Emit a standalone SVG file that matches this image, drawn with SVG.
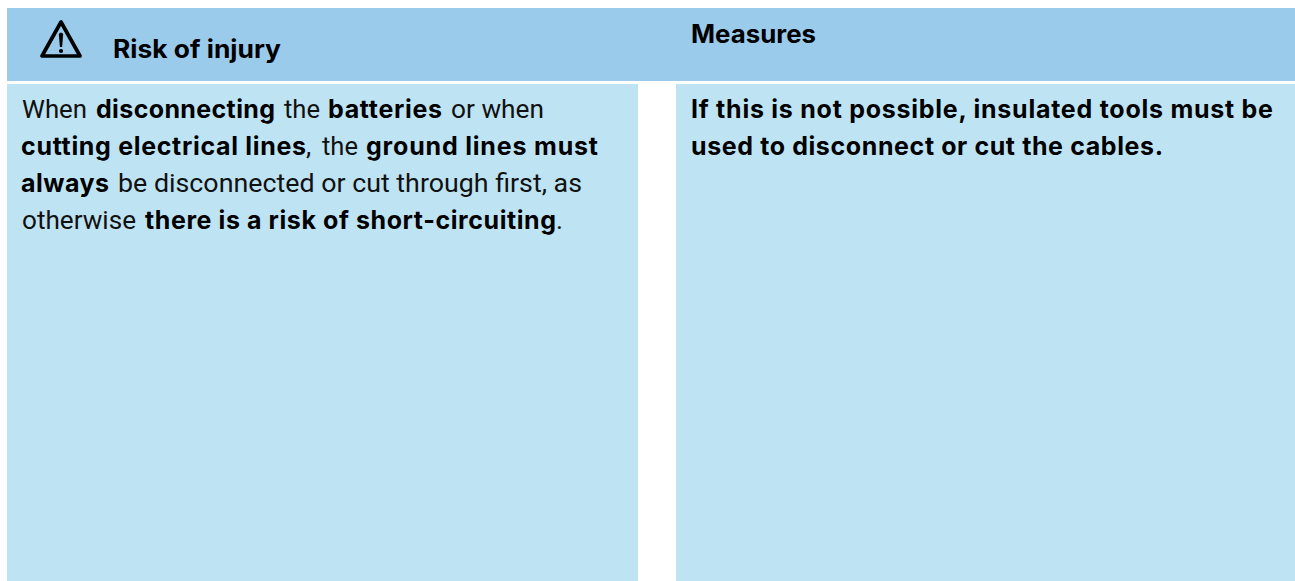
<svg xmlns="http://www.w3.org/2000/svg" width="1295" height="581" viewBox="0 0 1295 581">
<style>
.h{fill:#9acbeb}.b{fill:#bee4f4}
text{font-family:Roboto,"Liberation Sans",sans-serif;font-size:26.5px;font-weight:400;fill:#111}
text.s{font-family:Inter,Roboto,"Liberation Sans",sans-serif;font-size:25px;font-weight:700;fill:#000}
</style>
<rect width="1295" height="581" fill="#fff"/>
<g id="header">
<rect class="h" x="7" y="8" width="1288" height="73"/>
<g id="warning-icon">
<path d="M61 22 L42 56 H80 Z" fill="none" stroke="#000" stroke-width="3.7" stroke-linejoin="round"/>
<path d="M58.8 34 Q61 31 63.2 34 L62.1 47 H59.9 Z" fill="#000"/>
<circle cx="61" cy="51" r="2.1" fill="#000"/>
</g>
<text class="s" x="113" y="58" textLength="168" lengthAdjust="spacingAndGlyphs">Risk of injury</text>
<text class="s" x="691" y="43" textLength="125" lengthAdjust="spacingAndGlyphs">Measures</text>
</g>
<g id="risk">
<rect class="b" x="7" y="84" width="631" height="497"/>
<text x="22" y="118" textLength="65" lengthAdjust="spacingAndGlyphs">When</text>
<text class="s" x="96" y="118" textLength="179">disconnecting</text>
<text x="284" y="118" textLength="36" lengthAdjust="spacingAndGlyphs">the</text>
<text class="s" x="328" y="118" textLength="114">batteries</text>
<text x="451" y="118" textLength="93" lengthAdjust="spacingAndGlyphs">or when</text>
<text class="s" x="21" y="155" textLength="285">cutting electrical lines</text>
<text x="306" y="155">,</text>
<text x="322" y="155" textLength="36" lengthAdjust="spacingAndGlyphs">the</text>
<text class="s" x="366" y="155" textLength="232">ground lines must</text>
<text class="s" x="21" y="192" textLength="88">always</text>
<text x="118" y="192" textLength="464" lengthAdjust="spacingAndGlyphs">be disconnected or cut through first, as</text>
<text x="22" y="229" textLength="114" lengthAdjust="spacingAndGlyphs">otherwise</text>
<text class="s" x="145" y="229" textLength="411">there is a risk of short-circuiting</text>
<text x="556" y="229">.</text>
</g>
<g id="measures">
<rect class="b" x="676" y="84" width="619" height="497"/>
<text class="s" x="691" y="118" textLength="582">If this is not possible, insulated tools must be</text>
<text class="s" x="691" y="155" textLength="472">used to disconnect or cut the cables.</text>
</g>
</svg>
